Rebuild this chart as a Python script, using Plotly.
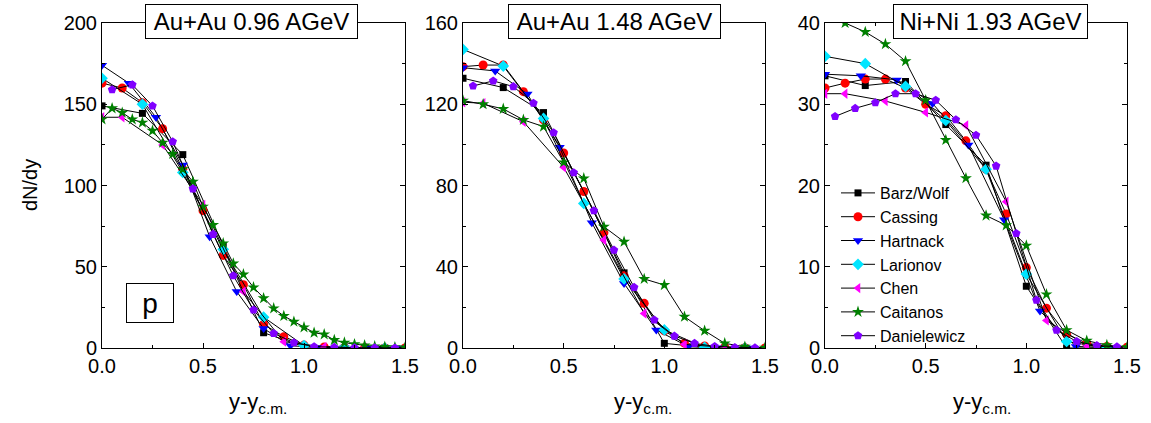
import plotly.graph_objects as go

# ---------------- data ----------------
panel_titles = ["Au+Au 0.96 AGeV", "Au+Au 1.48 AGeV", "Ni+Ni 1.93 AGeV"]
model_names = ["Barz/Wolf", "Cassing", "Hartnack", "Larionov", "Chen", "Caitanos", "Danielewicz"]
x_ticks = [0.0, 0.5, 1.0, 1.5]

# Panel 1: Au+Au 0.96 AGeV
bw1_x = [0.0, 0.2, 0.4, 0.6, 0.8, 1.0, 1.2, 1.4]
bw1_y = [149, 144.4, 119, 63, 9.4, 0.8, 0.2, 0.0]
ca1_x = [0.0, 0.1, 0.2, 0.3, 0.4, 0.5, 0.6, 0.7, 0.8, 0.9, 1.0, 1.1, 1.2, 1.3, 1.4, 1.5]
ca1_y = [163, 160, 151, 135, 110, 84.5, 57, 39, 14.6, 7, 1.8, 0.6, 0.2, 0.1, 0.0, 0.0]
ha1_x = [0.0, 0.133, 0.267, 0.4, 0.533, 0.667, 0.8, 0.933, 1.067, 1.2, 1.333, 1.467]
ha1_y = [174, 163, 142, 112.6, 68.5, 34.7, 12, 1.4, 0.3, 0.1, 0.0, 0.0]
la1_x = [0.0, 0.2, 0.4, 0.6, 0.8, 1.0, 1.2, 1.4]
la1_y = [166, 150, 108, 60.7, 19, 1.5, 0.3, 0.0]
ch1_x = [0.0, 0.1, 0.3, 0.5, 0.7, 0.9, 1.1, 1.3, 1.5]
ch1_y = [142, 142, 125, 88, 34.7, 3.9, 0.6, 0.1, 0.0]
cai1_x = [0.0, 0.05, 0.1, 0.15, 0.2, 0.25, 0.3, 0.35, 0.4, 0.45, 0.5, 0.55, 0.6, 0.65, 0.7, 0.75,
          0.8, 0.85, 0.9, 0.95, 1.0, 1.05, 1.1, 1.15, 1.2, 1.25, 1.3, 1.35, 1.4, 1.45, 1.5]
cai1_y = [140.7, 147.5, 144.8, 140.7, 138.7, 133.7, 126.3, 119.4, 110, 102.3, 87, 75.7, 64.4, 52, 45.3, 37.3,
          30.6, 24.4, 19.7, 16.2, 12.7, 9.4, 8.4, 4.9, 3.3, 2.3, 1.6, 1.0, 0.7, 0.5, 0.3]
da1_x = [0.05, 0.15, 0.25, 0.35, 0.45, 0.55, 0.65, 0.75, 0.85, 0.95, 1.05, 1.15, 1.25, 1.35, 1.45]
da1_y = [159, 162, 149, 127, 98, 70, 44.5, 23.4, 9, 3.3, 0.8, 0.4, 0.2, 0.1, 0.05]

# Panel 2: Au+Au 1.48 AGeV
bw2_x = [0.0, 0.2, 0.4, 0.6, 0.8, 1.0, 1.2, 1.4]
bw2_y = [132.8, 128.2, 115.9, 77, 37, 2.3, 0.3, 0.0]
ca2_x = [0.0, 0.1, 0.2, 0.3, 0.4, 0.5, 0.6, 0.7, 0.8, 0.9, 1.0, 1.1, 1.2, 1.3, 1.4, 1.5]
ca2_y = [138.5, 139.3, 139.3, 126.2, 112.3, 96, 77, 56.8, 35.6, 22, 8.4, 2.4, 1.0, 0.4, 0.1, 0.0]
ha2_x = [0.0, 0.16, 0.32, 0.48, 0.64, 0.80, 0.96, 1.12, 1.28, 1.44]
ha2_y = [138, 136.4, 125, 98.8, 61.7, 31.8, 8.9, 0.6, 0.1, 0.0]
la2_x = [0.0, 0.2, 0.4, 0.6, 0.8, 1.0, 1.2, 1.4]
la2_y = [147, 138.8, 113, 71.2, 34, 8.9, 0.3, 0.0]
ch2_x = [0.0, 0.1, 0.3, 0.5, 0.7, 0.9, 1.1, 1.3, 1.5]
ch2_y = [121, 120.5, 111.4, 89, 53.2, 17, 1.8, 0.3, 0.0]
cai2_x = [0.0, 0.1, 0.2, 0.3, 0.4, 0.5, 0.6, 0.7, 0.8, 0.9, 1.0, 1.1, 1.2, 1.3, 1.4, 1.5]
cai2_y = [121.8, 120, 117.7, 112.3, 109, 91.4, 83.5, 59.7, 52.3, 34, 31, 15.4, 8.5, 2.3, 0.6, 0.2]
da2_x = [0.05, 0.15, 0.25, 0.35, 0.45, 0.55, 0.65, 0.75, 0.85, 0.95, 1.05, 1.15, 1.25, 1.35, 1.45]
da2_y = [129, 131.5, 128.7, 120.5, 106, 86.3, 67.6, 48.2, 29.9, 13.8, 5.9, 2.3, 0.8, 0.3, 0.1]

# Panel 3: Ni+Ni 1.93 AGeV
bw3_x = [0.0, 0.2, 0.4, 0.6, 0.8, 1.0, 1.2, 1.4]
bw3_y = [33.5, 32.3, 32.8, 27.5, 22.5, 7.6, 0.0, 0.0]
ca3_x = [0.0, 0.1, 0.2, 0.3, 0.4, 0.5, 0.6, 0.7, 0.8, 0.9, 1.0, 1.1, 1.2, 1.3, 1.4, 1.5]
ca3_y = [32.0, 32.6, 33.1, 33.1, 32.0, 30.0, 28.6, 25.5, 22.0, 16.5, 9.9, 4.9, 1.7, 0.6, 0.2, 0.1]
ha3_x = [0.0, 0.178, 0.356, 0.534, 0.712, 0.89, 1.068, 1.246, 1.424]
ha3_y = [33.7, 33.5, 33.0, 30.1, 25.0, 15.8, 4.55, 0.2, 0.0]
la3_x = [0.0, 0.2, 0.4, 0.6, 0.8, 1.0, 1.2, 1.4]
la3_y = [35.9, 35.0, 32.2, 28.0, 22.0, 9.1, 0.8, 0.0]
ch3_x = [0.0, 0.1, 0.3, 0.5, 0.7, 0.9, 1.1, 1.3, 1.5]
ch3_y = [31.3, 31.3, 30.4, 29.0, 27.4, 18.0, 3.4, 0.3, 0.0]
cai3_x = [0.1, 0.2, 0.3, 0.4, 0.5, 0.6, 0.7, 0.8, 0.9, 1.0, 1.1, 1.2, 1.3, 1.4, 1.5]
cai3_y = [40.0, 38.9, 37.4, 35.3, 30.5, 25.6, 20.9, 16.3, 15.1, 12.6, 6.6, 2.2, 0.9, 0.35, 0.1]
da3_x = [0.05, 0.15, 0.25, 0.35, 0.45, 0.55, 0.65, 0.75, 0.85, 0.95, 1.05, 1.15, 1.25, 1.35, 1.45]
da3_y = [28.5, 29.5, 30.2, 31.3, 31.3, 30.5, 28.1, 26.2, 22.4, 14.1, 5.9, 2.2, 0.8, 0.3, 0.15]

y_ranges = [[0, 200], [0, 160], [0, 40]]
y_dticks = [50, 40, 10]

# ---------------- styles ----------------
styles = [
    dict(symbol="square", color="#000000", size=7),
    dict(symbol="circle", color="#ff0000", size=9),
    dict(symbol="triangle-down", color="#0000ff", size=9),
    dict(symbol="diamond", color="#00e5ff", size=9),
    dict(symbol="triangle-left", color="#ff00ff", size=9),
    dict(symbol="star", color="#008000", size=9),
    dict(symbol="pentagon", color="#8000ff", size=9),
]

panels = [
    [(bw1_x, bw1_y), (ca1_x, ca1_y), (ha1_x, ha1_y), (la1_x, la1_y), (ch1_x, ch1_y), (cai1_x, cai1_y), (da1_x, da1_y)],
    [(bw2_x, bw2_y), (ca2_x, ca2_y), (ha2_x, ha2_y), (la2_x, la2_y), (ch2_x, ch2_y), (cai2_x, cai2_y), (da2_x, da2_y)],
    [(bw3_x, bw3_y), (ca3_x, ca3_y), (ha3_x, ha3_y), (la3_x, la3_y), (ch3_x, ch3_y), (cai3_x, cai3_y), (da3_x, da3_y)],
]

W, H = 1151, 423
FONT = "Liberation Sans, Arial, Helvetica, sans-serif"

fig = go.Figure()
for p, series in enumerate(panels):
    ax = "" if p == 0 else str(p + 1)
    for k, (xs, ys) in enumerate(series):
        st = styles[k]
        fig.add_trace(go.Scatter(
            x=xs, y=ys, mode="lines+markers", name=model_names[k],
            xaxis="x" + ax, yaxis="y" + ax,
            line=dict(color="black", width=1),
            marker=dict(symbol=st["symbol"], color=st["color"], size=st["size"], line=dict(width=0)),
            legendgroup=model_names[k], showlegend=(p == 2),
            cliponaxis=True,
        ))

# pixel geometry of plot areas
x_px = [(102, 405), (463, 765), (825, 1127)]
y_top, y_bot = 23, 348

layout = dict(
    width=W, height=H, margin=dict(l=0, r=0, t=0, b=0, pad=0, autoexpand=False),
    paper_bgcolor="white", plot_bgcolor="white",
    font=dict(family=FONT, size=20, color="black"),
    showlegend=True,
    legend=dict(x=836 / W, y=1 - 176 / H, xanchor="left", yanchor="top",
                bgcolor="rgba(0,0,0,0)", font=dict(size=16, family=FONT, color="black"),
                tracegroupgap=0, borderwidth=0, itemwidth=34),
)
axis_common = dict(showline=True, linecolor="black", linewidth=1, mirror="ticks",
                   ticks="inside", ticklen=5, tickwidth=1, tickcolor="black",
                   showgrid=False, zeroline=False, automargin=False,
                   tickfont=dict(size=20, family=FONT, color="black"))
for p in range(3):
    ax = "" if p == 0 else str(p + 1)
    x0, x1 = x_px[p]
    layout["xaxis" + ax] = dict(axis_common, domain=[x0 / W, x1 / W], range=[0, 1.5],
                                 tickvals=x_ticks, tickformat=".1f",
                                 minor=dict(dtick=0.25, ticks="inside", ticklen=3, tickcolor="black", showgrid=False),
                                 anchor="y" + ax)
    layout["yaxis" + ax] = dict(axis_common, domain=[1 - y_bot / H, 1 - y_top / H], range=y_ranges[p],
                                 dtick=y_dticks[p], tick0=0,
                                 minor=dict(dtick=y_dticks[p] / 2, ticks="inside", ticklen=3, tickcolor="black", showgrid=False),
                                 anchor="x" + ax)
fig.update_layout(**layout)

# panel title boxes
title_centers = [251.5, 614.5, 990]
title_widths = [209, 209, 191]
for p in range(3):
    fig.add_annotation(x=title_centers[p] / W, y=1 - 21.5 / H, xref="paper", yref="paper",
                       text=panel_titles[p], showarrow=False, xanchor="center", yanchor="middle",
                       font=dict(size=24, family=FONT, color="black"),
                       bgcolor="white", bordercolor="black", borderwidth=1, borderpad=1,
                       width=title_widths[p], height=31)

# x-axis titles
xlabel_centers = [258, 643, 982]
for p in range(3):
    fig.add_annotation(x=xlabel_centers[p] / W, y=1 - 403 / H, xref="paper", yref="paper",
                       text="y-y<sub>c.m.</sub>", showarrow=False, xanchor="center", yanchor="middle",
                       font=dict(size=22, family=FONT, color="black"))

# y-axis title
fig.add_annotation(x=30 / W, y=1 - 185 / H, xref="paper", yref="paper", text="dN/dy",
                   textangle=-90, showarrow=False, xanchor="center", yanchor="middle",
                   font=dict(size=20, family=FONT, color="black"))

# particle label
fig.add_annotation(x=0.24, y=28, xref="x", yref="y", text="p", showarrow=False,
                   xanchor="center", yanchor="middle",
                   font=dict(size=28, family=FONT, color="black"),
                   bgcolor="white", bordercolor="black", borderwidth=1, borderpad=1,
                   width=44, height=36)

fig.write_html("out.html")
